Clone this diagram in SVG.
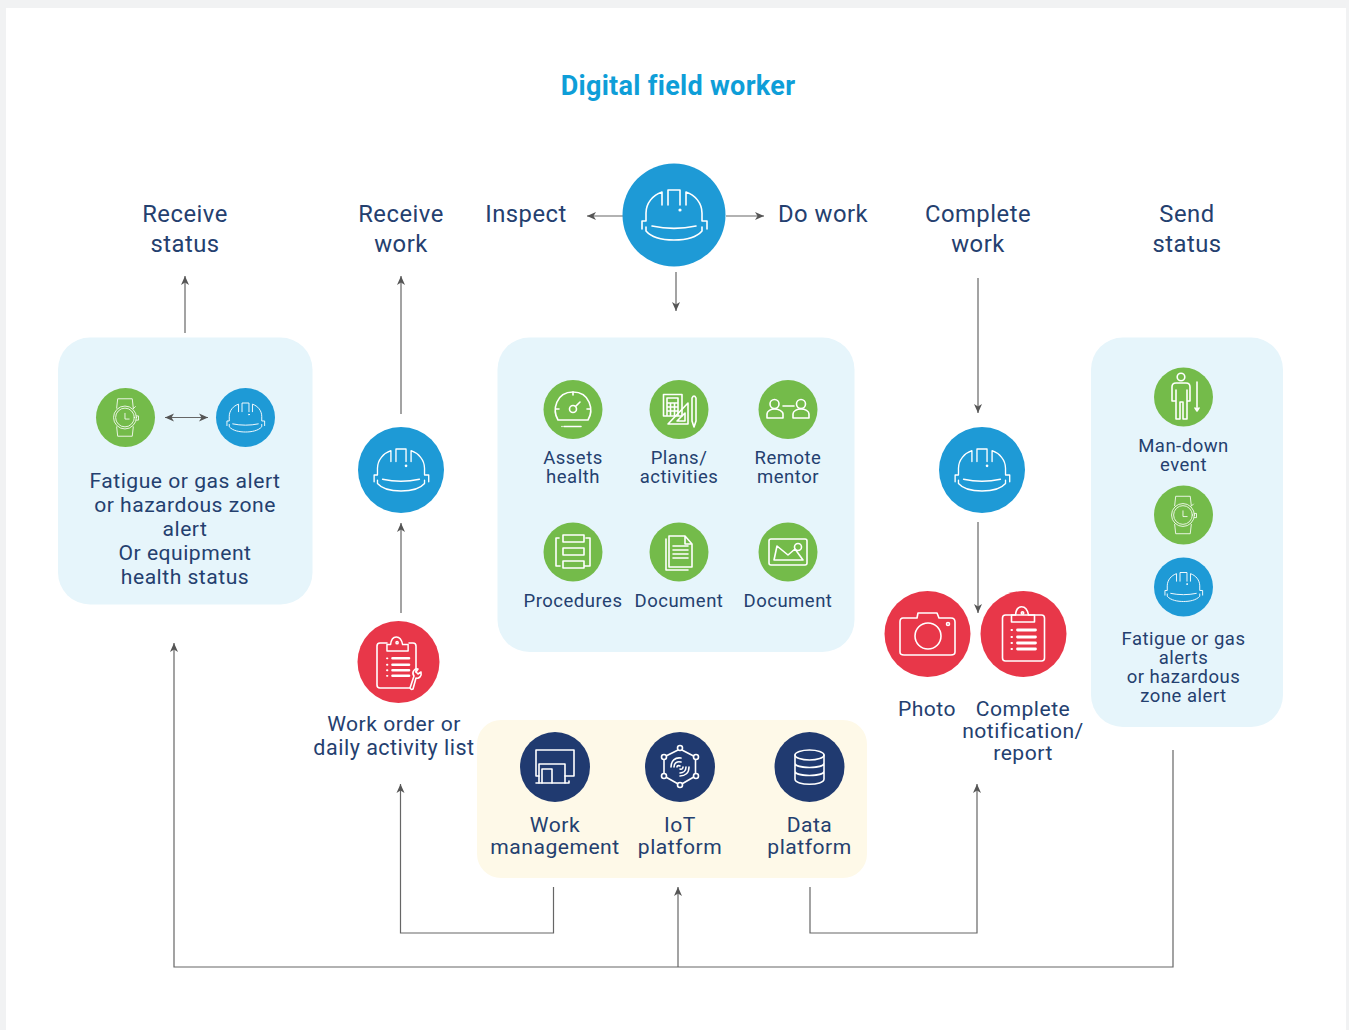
<svg xmlns="http://www.w3.org/2000/svg" xmlns:xlink="http://www.w3.org/1999/xlink" width="1349" height="1030" viewBox="0 0 1349 1030">
<style>
text{font-family:Roboto,"Liberation Sans",sans-serif;fill:#24406f;text-anchor:middle;letter-spacing:.5px}
.h{font-size:23.800px}.m{font-size:21.100px}.s{font-size:18.500px}
.title{font-size:27px;font-weight:700;fill:#0e9ed8;letter-spacing:.3px}
.i{fill:none;stroke:#fff;stroke-width:1.600;stroke-linejoin:round;stroke-linecap:round}
.c{fill:none;stroke:#666;stroke-width:1.200}
.blue{fill:#1e9ad6}.green{fill:#74bb4a}.red{fill:#e83749}.navy{fill:#203a70}
.panel{fill:#e6f5fb}
</style>
<defs>
<marker id="a" viewBox="0 0 10 10" refX="9" refY="5" markerWidth="10" markerHeight="10" markerUnits="userSpaceOnUse" orient="auto-start-reverse"><path d="M0 1 L9 5 L0 9 L2.500 5 Z" fill="#555"/></marker>
<g id="helmet" class="i"><path d="M-32 14V6H-28V-2C-28-12-21-20-12-23V-10M-6-10V-25H6V-10M12-10V-23C21-20 28-12 28-2V6H33V14"/><path d="M-22 11C-8 14 8 14 22 11M-28 12V16C-22 23-10 25 0 25S22 23 28 16V12"/><circle cx="6" cy="-5" r=".8"/></g>
<g id="watch" class="i"><path d="M-17-18L-15-36H13L15-18M-17 18L-15 36H13L15 18"/><circle cx="-1" cy="0" r="22"/><circle cx="-1" cy="0" r="18"/><path d="M-1-8V3H7M21-3H25V5H21M15-17L19-21"/></g>
<g id="clip-top" class="i"><path d="M-12-12H11V-19H5C3-30-7-30-8-19H-12Z"/><circle cx="-1" cy="-21" r="1.200"/><path d="M-12-4H-11.500M-12 3H-11.500M-12 9H-11.500M-12 15H-11.500" stroke-width="2"/><path d="M-6-4H12M-6 3H12M-6 9H12M-6 15H12" stroke-width="2.800"/></g>
</defs>
<rect width="1349" height="1030" fill="#f1f2f3"/>
<rect x="6" y="8" width="1340" height="1022" fill="#fff"/>
<text class="title" x="678" y="94.500">Digital field worker</text>

<g id="panels">
<rect class="panel" x="58" y="337.500" width="254.500" height="267" rx="32"/>
<rect class="panel" x="497.500" y="337.500" width="357" height="314.500" rx="32"/>
<rect class="panel" x="1091" y="337.500" width="192" height="389.500" rx="32"/>
<rect x="477" y="720" width="390" height="158" rx="24" fill="#fef9e8"/>
</g>

<g id="connectors">
<path class="c" d="M185 333V276" marker-end="url(#a)"/>
<path class="c" d="M401 414V276" marker-end="url(#a)"/>
<path class="c" d="M401 613V523" marker-end="url(#a)"/>
<path class="c" d="M623 216H587" marker-end="url(#a)"/>
<path class="c" d="M726 216H764" marker-end="url(#a)"/>
<path class="c" d="M676 272V311" marker-end="url(#a)"/>
<path class="c" d="M978 278V413" marker-end="url(#a)"/>
<path class="c" d="M978 522V613" marker-end="url(#a)"/>
<path class="c" d="M165 417.500H208" marker-start="url(#a)" marker-end="url(#a)"/>
<path class="c" d="M553.500 887V933H400.500V784" marker-end="url(#a)"/>
<path class="c" d="M810 887V933H977V784" marker-end="url(#a)"/>
<path class="c" d="M1173 750V967H174V643" marker-end="url(#a)"/>
<path class="c" d="M678 967V887" marker-end="url(#a)"/>
</g>

<g id="receive-status"><text class="h" x="185" y="222">Receive</text><text class="h" x="185" y="252">status</text></g>
<g id="receive-work"><text class="h" x="401" y="222">Receive</text><text class="h" x="401" y="252">work</text></g>
<g id="inspect"><text class="h" x="526" y="222">Inspect</text></g>
<g id="do-work"><text class="h" x="823" y="222">Do work</text></g>
<g id="complete-work"><text class="h" x="978" y="222">Complete</text><text class="h" x="978" y="252">work</text></g>
<g id="send-status"><text class="h" x="1187" y="222">Send</text><text class="h" x="1187" y="252">status</text></g>

<g id="worker-top"><circle class="blue" cx="674" cy="215" r="51.500"/><use href="#helmet" transform="translate(674 215)"/></g>

<g id="status-panel">
<circle class="green" cx="125.500" cy="417.500" r="29.500"/><use href="#watch" transform="translate(125.500 417.500) scale(.52)"/>
<circle class="blue" cx="245.500" cy="417.500" r="29.500"/><use href="#helmet" transform="translate(245.500 417.500) scale(.58)"/>
<text class="m" x="185" y="488">Fatigue or gas alert</text>
<text class="m" x="185" y="512">or hazardous zone</text>
<text class="m" x="185" y="536">alert</text>
<text class="m" x="185" y="560">Or equipment</text>
<text class="m" x="185" y="584">health status</text>
</g>

<g id="worker-left"><circle class="blue" cx="401" cy="470" r="43"/><use href="#helmet" transform="translate(401 470) scale(.84)"/></g>
<g id="worker-right"><circle class="blue" cx="982" cy="470" r="43"/><use href="#helmet" transform="translate(982 470) scale(.84)"/></g>

<g id="work-order">
<circle class="red" cx="398.500" cy="662" r="41"/><use href="#clip-top" transform="translate(398 662) scale(.92)"/>
<path class="i" d="M387 643H380Q377 643 377 646V685Q377 688 380 688H410M416 672V646Q416 643 413 643H409"/>
<path class="i" d="M410 688L414 676C411 672 415 668 418 669L416 672L418 674L421 672C422 676 419 679 416 678L413 689Q411 690 410 688Z" stroke-width="1.300"/>
<text class="m" x="394" y="731">Work order or</text>
<text class="m" x="394" y="755" style="font-size:21.500px">daily activity list</text>
</g>

<g id="assets-health"><circle class="green" cx="573" cy="409.500" r="29.500"/>
<g class="i" stroke-width="1.300"><path d="M558 420C552 410 556 392 573 392S594 410 588 420Z"/><circle cx="573" cy="409" r="3.500"/><path d="M575.500 406.500L580 402M573 392V395M556 409H559M587 409H590M564 426.500H581M562 426.500H562"/></g>
<text class="s" x="573" y="464">Assets</text><text class="s" x="573" y="483">health</text></g>

<g id="plans"><circle class="green" cx="679" cy="409.500" r="29.500"/>
<g class="i" stroke-width="1.200"><path d="M663.500 394.500H682V416H663.500ZM667 398H678V403H667ZM667 403V415M678 403V415M667 407H678M667 411H678M670.500 403V415M674.500 403V415"/><path d="M668 424L688 403V424ZM677 421L685 413V421Z"/><path d="M692 398Q694 394 696 398V421L694 427L692 421Z"/></g>
<text class="s" x="679" y="464">Plans/</text><text class="s" x="679" y="483">activities</text></g>

<g id="remote-mentor"><circle class="green" cx="788" cy="409.500" r="29.500"/>
<g class="i" stroke-width="1"><circle cx="774.500" cy="404" r="4.500"/><circle cx="801" cy="404" r="4.500"/><path d="M767 418V414C767 411 771 409 774.500 409S783 411 783 414V418ZM793 418V414C793 411 797 409 801 409S809 411 809 414V418ZM783 406H794"/></g>
<text class="s" x="788" y="464">Remote</text><text class="s" x="788" y="483">mentor</text></g>

<g id="procedures"><circle class="green" cx="573" cy="552" r="29.500"/>
<g class="i" stroke-width="1.200"><path d="M563 535H584V542H563ZM563 548H584V555H563ZM563 561H584V568H563ZM559 538H556V566H560M586 538H590V566H584"/></g>
<text class="s" x="573" y="607">Procedures</text></g>

<g id="document-1"><circle class="green" cx="679" cy="552" r="29.500"/>
<g class="i" stroke-width="1.200"><path d="M669 536H685L692 544V567H669ZM685 536V544H692M666 539V570H688M673 546H688M673 550H688M673 554H688M673 558H688"/></g>
<text class="s" x="679" y="607">Document</text></g>

<g id="document-2"><circle class="green" cx="788" cy="552" r="29.500"/>
<g class="i" stroke-width="1.200"><rect x="769" y="539" width="38" height="26" rx="2"/><path d="M774 560L777 546L788 555L795 549L803 560Z"/><circle cx="798" cy="547" r="3.500"/></g>
<text class="s" x="788" y="607">Document</text></g>

<g id="man-down"><circle class="green" cx="1183.500" cy="397" r="29.500"/>
<g class="i" stroke-width="1.100"><circle cx="1181" cy="377" r="3.800"/><path d="M1176 383H1186Q1190 383 1190 387V401H1187V390M1187 401V419H1183V402H1180V419H1176V390M1176 401H1172V387Q1172 383 1176 383"/><path d="M1197 382V411M1195 408L1197 411L1199 408"/></g>
<text class="s" x="1183.500" y="452">Man-down</text><text class="s" x="1183.500" y="471">event</text></g>

<g id="watch-right"><circle class="green" cx="1183.500" cy="515" r="29.500"/><use href="#watch" transform="translate(1183.500 515) scale(.52)"/></g>

<g id="helmet-right"><circle class="blue" cx="1183.500" cy="587" r="29.500"/><use href="#helmet" transform="translate(1183.500 587) scale(.58)"/>
<text class="s" x="1183.500" y="645">Fatigue or gas</text><text class="s" x="1183.500" y="664">alerts</text><text class="s" x="1183.500" y="683">or hazardous</text><text class="s" x="1183.500" y="701.500">zone alert</text></g>

<g id="photo"><circle class="red" cx="927.500" cy="634" r="43"/>
<g class="i" stroke-width="1.800"><path d="M903 618H917L918 613H937L939 618H951Q955 618 955 622V652Q955 655 951 655H904Q900 655 900 652V622Q900 618 903 618Z"/><circle cx="928" cy="636" r="13"/><circle cx="948" cy="624" r="1.500"/></g>
<text class="m" x="927" y="715.500">Photo</text></g>

<g id="report"><circle class="red" cx="1023.500" cy="634" r="43"/>
<use href="#clip-top" transform="translate(1023.500 634)"/>
<rect class="i" x="1002.500" y="615" width="42" height="46" rx="3"/>
<text class="m" x="1023" y="715.500">Complete</text><text class="m" x="1023" y="737.500">notification/</text><text class="m" x="1023" y="759.500">report</text></g>

<g id="work-management"><circle class="navy" cx="555" cy="767" r="35"/>
<g class="i" stroke-width="1"><path d="M536 776V750H574V776H565M536 776H539M574 757H574"/><path d="M539 783V764H565V783"/><path d="M542 783V769H552V783"/><path d="M536 783H569V781"/></g>
<text class="m" x="555" y="832">Work</text><text class="m" x="555" y="854">management</text></g>

<g id="iot-platform"><circle class="navy" cx="680" cy="767" r="35"/>
<g class="i" stroke-width="1"><path d="M680 749L695.500 757V776L680 785L664 776V757Z"/><circle cx="680" cy="748" r="2.500" fill="#203a70"/><circle cx="696" cy="757" r="2.500" fill="#203a70"/><circle cx="696" cy="776" r="2.500" fill="#203a70"/><circle cx="680" cy="785" r="2.500" fill="#203a70"/><circle cx="664" cy="776" r="2.500" fill="#203a70"/><circle cx="664" cy="757" r="2.500" fill="#203a70"/><path d="M671 767C671 761 675 757 681 758M674 767C674 763 677 761 681 762M677 767C677 766 678 765 680 766M689 767C689 773 685 776 680 776M686 767C686 771 683 773 680 773M683 767C683 768 682 770 680 769"/></g>
<text class="m" x="680" y="832">IoT</text><text class="m" x="680" y="854">platform</text></g>

<g id="data-platform"><circle class="navy" cx="809.500" cy="767" r="35"/>
<g class="i" stroke-width="1.300"><ellipse cx="809.500" cy="755" rx="14.500" ry="5"/><path d="M795 755V779C795 786 824 786 824 779V755M795 763C795 769 824 769 824 763M795 771C795 777 824 777 824 771"/></g>
<text class="m" x="809.500" y="832">Data</text><text class="m" x="809.500" y="854">platform</text></g>
</svg>
